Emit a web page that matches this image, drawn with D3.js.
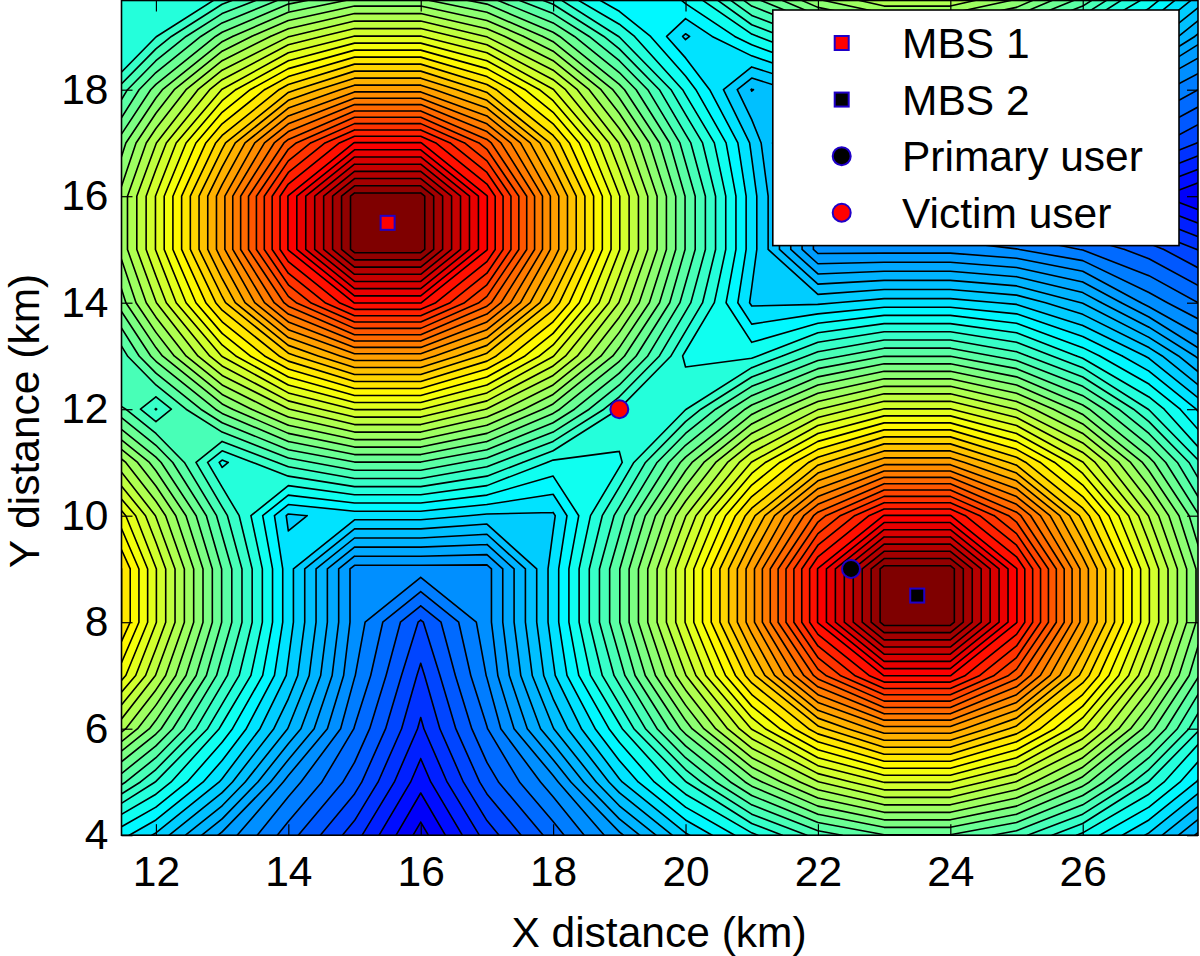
<!DOCTYPE html>
<html><head><meta charset="utf-8">
<script src="https://cdn.jsdelivr.net/npm/d3@7"></script>
<style>html,body{margin:0;padding:0;background:#fff}svg{display:block}
text{font-family:"Liberation Sans",Arial,sans-serif;fill:#000}</style></head>
<body><svg id="c" width="1200" height="956"></svg>
<script>
// Attenuation below the peak, in contour steps at each 1 km grid node.
const xNodes = [11,12,13,14,15,16,17,18,19,20,21,22,23,24,25,26,27,28];
const yNodes = [4,5,6,7,8,9,10,11,12,13,14,15,16,17,18,19,20];
const row4  = [34.7,37.63,41.7,45,48,51.9,48,45,41.7,37.63,34.7,32,30.5,30.5,32,34.7,37.63,41.7];
const row5  = [29,33.5,37.63,42.85,46,50.07,46,42.85,37.63,33.5,29,25.5,23.4,23.4,25.5,29,33.5,37.63];
const row6  = [23.4,29,34.7,39.5,44.5,48.65,44.5,39.5,34.7,29,23.4,18.8,15.8,15.8,18.8,23.4,29,34.7];
const row7  = [18.8,25.5,32,37.63,43.4,47.7,43.4,37.63,32,25.5,18.8,12,7.4,7.4,12,18.8,25.5,32];
const row8  = [15.8,23.4,30.5,37,42.85,46.6,42.85,37,30.5,23.4,15.8,7.4,0,0,7.4,15.8,23.4,30.5];
const row9  = [15.8,23.4,30.5,37,42.85,42.85,42.85,37,30.5,23.4,15.8,7.4,0,0,7.4,15.8,23.4,30.5];
const row10 = [18.8,25.5,32,37.63,37,37,37.63,37.63,32,25.5,18.8,12,7.4,7.4,12,18.8,25.5,32];
const row11 = [23.4,29,34.7,32,30.5,30.5,32,34.7,34.7,29,23.4,18.8,15.8,15.8,18.8,23.4,29,34.7];
const row12 = [29,33.5,29,25.5,23.4,23.4,25.5,29,33.5,33.5,29,25.5,23.4,23.4,25.5,29,33.5,37.63];
const row13 = [34.7,29,23.4,18.8,15.8,15.8,18.8,23.4,29,34.7,34.7,32,30.5,30.5,32,34.7,37.63,41.7];
const row14 = [32,25.5,18.8,12,7.4,7.4,12,18.8,25.5,32,37.63,37.63,37,37,37.63,39.5,42.85,45];
const row15 = [30.5,23.4,15.8,7.4,0,0,7.4,15.8,23.4,30.5,37,42.85,42.85,42.85,43.4,44.5,46,48];
const row16 = [30.5,23.4,15.8,7.4,0,0,7.4,15.8,23.4,30.5,37,42.85,46.6,46.6,47.7,48.65,50.07,51.9];
const row17 = [32,25.5,18.8,12,7.4,7.4,12,18.8,25.5,32,37.63,43.4,42.85,42.85,43.4,44.5,46,48];
const row18 = [34.7,29,23.4,18.8,15.8,15.8,18.8,23.4,29,34.7,39.5,37.63,37,37,37.63,39.5,42.85,45];
const row19 = [34.2,33.5,29,25.5,23.4,23.4,25.5,29,33.5,37.63,34.7,32,30.5,30.5,32,34.7,37.63,41.7];
const row20 = [34.2,34.2,34.7,32,30.5,30.5,32,34.7,37.63,34.1,29,25.5,23.4,23.4,25.5,29,33.5,37.63];
const rows = [row4,row5,row6,row7,row8,row9,row10,row11,row12,row13,row14,row15,row16,row17,row18,row19,row20];
const contourSteps = d3.range(0,53);

// colour position (jet, 0-1) read at several attenuation depths
const depthStops = [0,21,33.5,38,43,52];
const jetStops = [1,0.63,0.42,0.325,0.265,0.10];

const xTicks = [12,14,16,18,20,22,24,26];
const yTicks = [4,6,8,10,12,14,16,18];
const xLabel = "X distance (km)";
const yLabel = "Y distance (km)";

const markerNames = ["MBS 1","MBS 2","Primary user","Victim user"];
const markerShapes = ["square","square","circle","circle"];
const markerFills = ["#ff0000","#000000","#000000","#ff0000"];
const markerX = [15.5,23.5,22.5,19];
const markerY = [15.5,8.5,9,12];

// layout
const L=121.5,R=1198,T=0.5,B=835.2;
const x=d3.scaleLinear().domain([11.48,27.75]).range([L,L+(27.75-11.48)*66.2]);
const y=d3.scaleLinear().domain([4,19.68]).range([B,B-15.68*53.25]);
const svg=d3.select("#c");

function jet(t){
  const c=v=>Math.round(255*Math.max(0,Math.min(1,v)));
  const r=1.5-Math.abs(4*t-3), g=1.5-Math.abs(4*t-2), b=1.5-Math.abs(4*t-1);
  return `rgb(${c(r)},${c(g)},${c(b)})`;
}
const depthToT=d3.scaleLinear().domain(depthStops).range(jetStops);

// Marching squares cell by cell with straight segments. In a saddle the two deep corners
// join only when the level lies well below the shallower of them, as seen in the reference.
function levelPaths(t){
  const fill=d3.path(), line=d3.path();
  const poly=pts=>{pts.forEach((p,i)=>i?fill.lineTo(p[0],p[1]):fill.moveTo(p[0],p[1]));fill.closePath();};
  const seg=(a,b)=>{line.moveTo(a[0],a[1]);line.lineTo(b[0],b[1]);};
  for(let j=0;j<yNodes.length-1;j++)for(let i=0;i<xNodes.length-1;i++){
    const c=[[i,j],[i+1,j],[i+1,j+1],[i,j+1]].map(([a,b])=>({px:x(xNodes[a]),py:y(yNodes[b]),v:rows[b][a]}));
    const inside=c.map(p=>p.v<=t), n=inside.filter(Boolean).length;
    if(n===0)continue;
    const P=p=>[p.px,p.py];
    if(n===4){poly(c.map(P));continue;}
    const cross=k=>{const a=c[k],b=c[(k+1)%4],u=(t-a.v)/(b.v-a.v);return [a.px+u*(b.px-a.px),a.py+u*(b.py-a.py)];};
    const saddle=n===2&&inside[0]===inside[2];
    if(saddle){
      const minHigh=d3.min(c.filter(p=>p.v>t),p=>p.v), maxLow=d3.max(c.filter(p=>p.v<=t),p=>p.v);
      if((minHigh-t)/(minHigh-maxLow)>0.35){
        for(let k=0;k<4;k++)if(inside[k]){
          const a=cross((k+3)%4),b=cross(k);
          poly([a,P(c[k]),b]);seg(a,b);
        }
        continue;
      }
    }
    const out=[];
    for(let k=0;k<4;k++){
      if(inside[k])out.push(P(c[k]));
      if(inside[k]!==inside[(k+1)%4])out.push(cross(k));
    }
    poly(out);
    for(let k=0;k<4;k++){
      const next=(k+1)%4, prev=(k+3)%4;
      if(saddle){ if(!inside[k])seg(cross(prev),cross(k)); }
      else if(n===1){ if(inside[k])seg(cross(prev),cross(k)); }
      else if(n===3){ if(!inside[k])seg(cross(prev),cross(k)); }
      else if(inside[k]!==inside[next]){
        for(let m=k+1;m<4;m++) if(inside[m]!==inside[(m+1)%4]) seg(cross(k),cross(m));
      }
    }
  }
  return {fill:fill.toString(),line:line.toString()};
}
const levels=contourSteps.map(k=>({t:k+0.45})).reverse();
levels.forEach(l=>Object.assign(l,levelPaths(l.t)));

svg.append("clipPath").attr("id","plot").append("rect")
  .attr("x",L).attr("y",T).attr("width",R-L).attr("height",B-T);
const g=svg.append("g").attr("clip-path","url(#plot)");
g.append("rect").attr("x",L).attr("y",T).attr("width",R-L).attr("height",B-T)
  .attr("fill",jet(depthToT(52.5)));
g.selectAll("path.band").data(levels).join("path").attr("class","band")
  .attr("d",d=>d.fill).attr("fill",d=>jet(depthToT(d.t-0.5)));
g.selectAll("path.line").data(levels).join("path").attr("class","line")
  .attr("d",d=>d.line).attr("fill","none")
  .attr("stroke","#000").attr("stroke-width",1.6).attr("stroke-linecap","round");

// axes
const ax=(gen,tx)=>{
  const s=svg.append("g").attr("transform",tx).call(gen);
  s.select(".domain").remove();
  s.selectAll(".tick line").attr("stroke","#000").attr("stroke-width",1.2);
  s.selectAll("text").style("font-size","42.5px").style("font-family",'"Liberation Sans"').attr("fill","#000");
  return s;
};
ax(d3.axisBottom(x).tickValues(xTicks).tickSize(-11).tickPadding(21).tickFormat(d3.format("d")),`translate(0,${B})`)
  .selectAll("text").attr("dy","0.71em");
ax(d3.axisTop(x).tickValues(xTicks).tickSize(-11).tickFormat(""),`translate(0,${T})`);
ax(d3.axisLeft(y).tickValues(yTicks).tickSize(-11).tickPadding(13).tickFormat(d3.format("d")),`translate(${L},0)`);
ax(d3.axisRight(y).tickValues(yTicks).tickSize(-11).tickFormat(""),`translate(${R},0)`);

svg.append("rect").attr("x",L).attr("y",T).attr("width",R-L).attr("height",B-T)
  .attr("fill","none").attr("stroke","#000").attr("stroke-width",1.6);

function mark(sel,shape,fill,cx,cy){
  if(shape==="square") sel.append("rect").attr("x",cx-7).attr("y",cy-7).attr("width",14).attr("height",14)
    .attr("fill",fill).attr("stroke","#2000c8").attr("stroke-width",2);
  else sel.append("circle").attr("cx",cx).attr("cy",cy).attr("r",9)
    .attr("fill",fill).attr("stroke","#2000c8").attr("stroke-width",2);
}
markerNames.forEach((n,i)=>mark(svg,markerShapes[i],markerFills[i],x(markerX[i]),y(markerY[i])));

// legend
svg.append("rect").attr("x",772.8).attr("y",10).attr("width",406.2).attr("height",235.6)
  .attr("fill","#fff").attr("stroke","#000").attr("stroke-width",1.6);
const legendRowY=d3.scalePoint().domain(markerNames).range([43,212.7]);
markerNames.forEach((n,i)=>{
  const cy=legendRowY(n);
  mark(svg,markerShapes[i],markerFills[i],841.7,cy);
  svg.append("text").attr("x",902).attr("y",cy+15).style("font-size","42.5px").text(n);
});

svg.append("text").attr("x",659).attr("y",947).attr("text-anchor","middle").style("font-size","42.5px").text(xLabel);
svg.append("text").attr("transform","translate(39,421) rotate(-90)").attr("text-anchor","middle").style("font-size","42.5px").text(yLabel);
</script></body></html>
